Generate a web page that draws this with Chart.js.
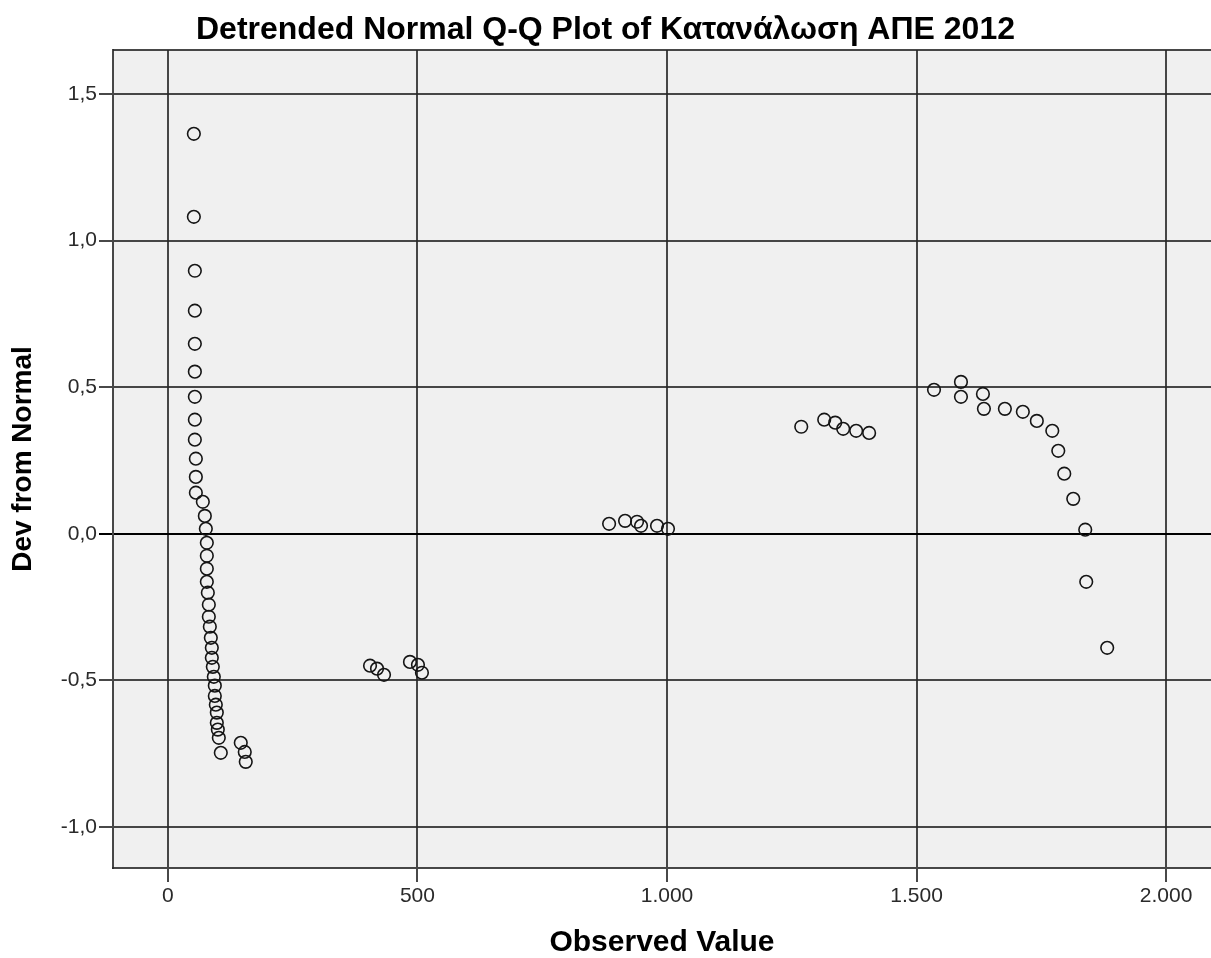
<!DOCTYPE html>
<html>
<head>
<meta charset="utf-8">
<script src="https://cdn.jsdelivr.net/npm/chart.js@4.4.1/dist/chart.umd.min.js"></script>
<style>
html,body{margin:0;padding:0;background:#fff;overflow:hidden;}
canvas{display:block;}
</style>
</head>
<body>
<canvas id="c" width="1211" height="958"></canvas>
<script>
// Observed values (x) and deviations from normal (y), paired by index
const observedValues = [
  52, 52, 54, 54, 54, 54, 54, 54, 54, 56, 56, 56,
  70, 74, 76, 78, 78, 78, 78, 80, 82, 82, 84, 86, 88, 88, 90, 92, 94, 94, 96, 98, 98, 100, 102, 106,
  146, 154, 156,
  405, 419, 433,
  485, 501, 509,
  884, 916, 940, 948, 980, 1002,
  1269, 1315, 1337, 1353, 1379, 1405,
  1535, 1589, 1589, 1633, 1635, 1677, 1713, 1741, 1772, 1784, 1796, 1814, 1838, 1840, 1882
];
const devFromNormal = [
  1.364, 1.081, 0.897, 0.761, 0.648, 0.553, 0.467, 0.389, 0.321, 0.256, 0.194, 0.140,
  0.109, 0.061, 0.017, -0.031, -0.075, -0.119, -0.164, -0.201, -0.242, -0.283, -0.317, -0.355, -0.389, -0.423, -0.454, -0.488, -0.518, -0.553, -0.583, -0.610, -0.645, -0.668, -0.696, -0.747,
  -0.713, -0.744, -0.778,
  -0.450, -0.460, -0.481,
  -0.437, -0.447, -0.474,
  0.034, 0.044, 0.041, 0.027, 0.027, 0.017,
  0.365, 0.389, 0.379, 0.358, 0.351, 0.344,
  0.491, 0.518, 0.467, 0.477, 0.426, 0.426, 0.416, 0.385, 0.351, 0.283, 0.205, 0.119, 0.014, -0.164, -0.389
];
const xTickValues = [0, 500, 1000, 1500, 2000];
const xTickLabels = ['0', '500', '1.000', '1.500', '2.000'];
const yTickValues = [-1.0, -0.5, 0.0, 0.5, 1.0, 1.5];
const yTickLabels = ['-1,0', '-0,5', '0,0', '0,5', '1,0', '1,5'];
const chartTitle = 'Detrended Normal Q-Q Plot of Κατανάλωση ΑΠΕ 2012';
const xTitle = 'Observed Value';
const yTitle = 'Dev from Normal';

const points = observedValues.map((x, i) => ({x: x, y: devFromNormal[i]}));
const FONT = '"Liberation Sans", Arial, sans-serif';
const GRID = 'rgba(40,40,40,0.85)';

const bgPlugin = {
  id: 'bg',
  beforeDraw(chart) {
    const {ctx, chartArea: a} = chart;
    ctx.save();
    ctx.fillStyle = '#f0f0f0';
    ctx.fillRect(a.left, a.top, a.right - a.left, a.bottom - a.top);
    ctx.restore();
  },
  afterDatasetsDraw(chart) {
    const {ctx, chartArea: a} = chart;
    ctx.save();
    ctx.strokeStyle = GRID;
    ctx.lineWidth = 2;
    ctx.beginPath();
    ctx.moveTo(a.left, a.top);
    ctx.lineTo(a.right, a.top);
    ctx.stroke();
    ctx.restore();
  }
};

new Chart(document.getElementById('c'), {
  type: 'scatter',
  data: {
    datasets: [{
      data: points,
      pointStyle: 'circle',
      pointRadius: 6.3,
      pointBorderWidth: 1.6,
      borderColor: '#151515',
      backgroundColor: 'rgba(0,0,0,0)',
      pointHoverRadius: 6.3
    }]
  },
  plugins: [bgPlugin],
  options: {
    responsive: false,
    animation: false,
    devicePixelRatio: 1,
    layout: {autoPadding: false, padding: {left: 0, right: 0, top: 0, bottom: 0}},
    plugins: {
      legend: {display: false},
      tooltip: {enabled: false},
      title: {
        display: true,
        text: chartTitle,
        color: '#000',
        font: {family: FONT, size: 32, weight: 'bold', lineHeight: 1},
        padding: {top: 14, bottom: 4}
      }
    },
    scales: {
      x: {
        type: 'linear',
        min: -110,
        max: 2090,
        afterBuildTicks(scale) { scale.ticks = xTickValues.map(v => ({value: v})); },
        afterFit(scale) { scale.height = 90; scale.paddingLeft = 0; scale.paddingRight = 0; },
        ticks: {
          callback(v) { const i = xTickValues.indexOf(v); return i >= 0 ? xTickLabels[i] : ''; },
          color: '#2a2a2a',
          font: {family: FONT, size: 21},
          padding: 2,
          maxRotation: 0
        },
        grid: {color: GRID, lineWidth: 2, tickLength: 14, drawTicks: true},
        border: {display: true, color: GRID, width: 2},
        title: {
          display: true,
          text: xTitle,
          color: '#000',
          font: {family: FONT, size: 30, weight: 'bold', lineHeight: 1},
          padding: {top: 0, bottom: 0}
        }
      },
      y: {
        type: 'linear',
        min: -1.14,
        max: 1.65,
        afterBuildTicks(scale) { scale.ticks = yTickValues.map(v => ({value: v})); },
        afterFit(scale) { scale.width = 113; scale.paddingTop = 0; scale.paddingBottom = 0; },
        ticks: {
          callback(v) { const i = yTickValues.findIndex(t => Math.abs(t - v) < 1e-9); return i >= 0 ? yTickLabels[i] : ''; },
          color: '#2a2a2a',
          font: {family: FONT, size: 21},
          padding: 2
        },
        grid: {
          color(ctx) { return ctx.tick && Math.abs(ctx.tick.value) < 1e-9 ? '#000' : GRID; },
          lineWidth: 2,
          tickLength: 14,
          drawTicks: true
        },
        border: {display: true, color: GRID, width: 2},
        title: {
          display: true,
          text: yTitle,
          color: '#000',
          font: {family: FONT, size: 28, weight: 'bold', lineHeight: 1},
          padding: {top: 9, bottom: 0}
        }
      }
    }
  }
});
</script>
</body>
</html>
